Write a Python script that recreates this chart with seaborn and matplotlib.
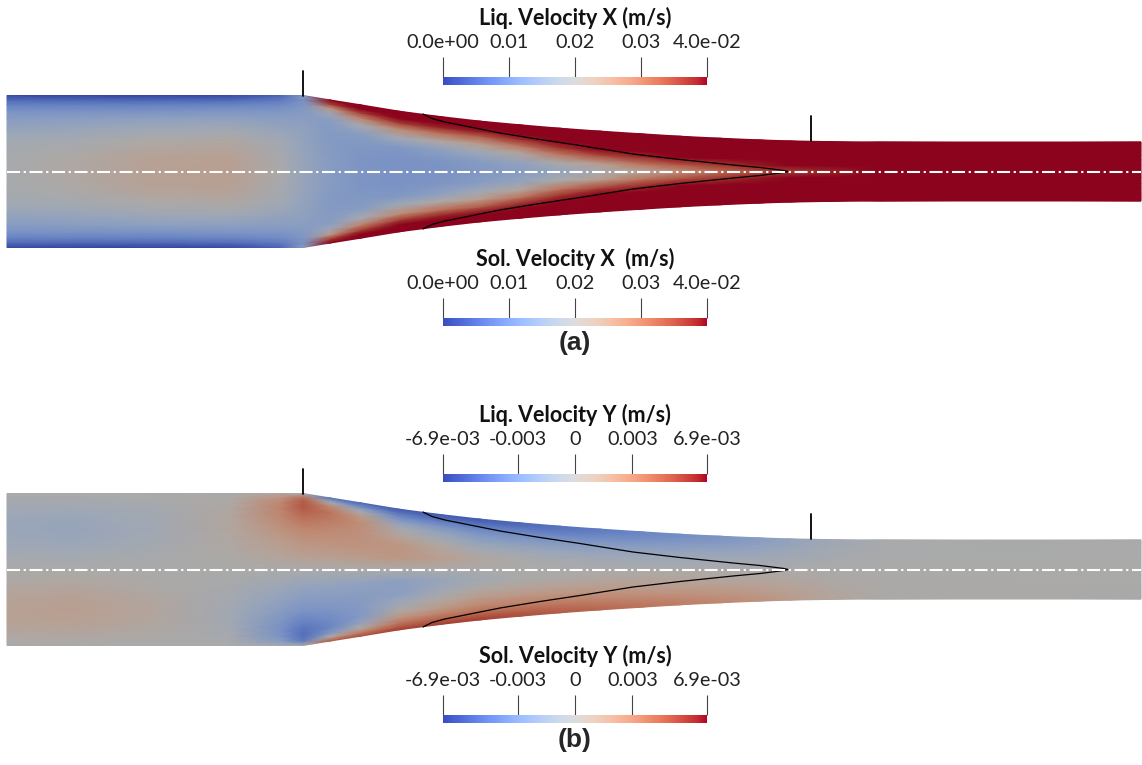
import numpy as np
import matplotlib
matplotlib.use("Agg")
import matplotlib.pyplot as plt
from matplotlib.colors import ListedColormap, Normalize
from matplotlib.cm import ScalarMappable
import seaborn as sns

# channel geometry: stations along the axis (px) and wall half-width (px)
x_stations = [7, 70, 150, 230, 280, 303, 330, 360, 400, 440, 480, 520, 560,
              600, 640, 680, 720, 760, 790, 830, 880, 1141]
wall_half = [76, 76, 76, 76, 76, 76, 71.6, 66.8, 60.2, 55.0, 50.4, 46.7, 43.3,
             40.4, 37.8, 35.3, 33.3, 31.6, 30.6, 29.9, 29.5, 29.5]
# normalized distance from the axis (0 = axis, 1 = wall)
eta_rows = [0, 0.2, 0.4, 0.55, 0.7, 0.8, 0.88, 0.94, 1.0]

# (a) velocity X in mm/s, one row per station, columns follow eta_rows
vel_x_mm = [
    [19.5, 19.5, 18.5, 16.5, 14, 12, 9, 6, 2],
    [21, 20.5, 19, 17, 14.5, 12, 9, 5.5, 1.5],
    [23, 22.5, 20.5, 18, 15, 12, 9, 5.5, 1.5],
    [23.5, 23, 21, 18.5, 15, 12.5, 9.5, 6, 2],
    [20, 19.5, 18.5, 16.5, 14.5, 12.5, 10.5, 8, 5],
    [16.5, 16.5, 16, 15.5, 14.5, 13.5, 12.5, 12, 14],
    [14, 14, 13.5, 13.5, 14, 17, 25, 36, 40],
    [12.5, 12.5, 13, 14, 19, 28, 36, 40, 40],
    [12, 12, 13, 18, 27, 36, 40, 40, 40],
    [12, 12.5, 15, 21, 31, 38, 40, 40, 40],
    [13, 14, 18, 24, 33, 39, 40, 40, 40],
    [14, 16, 22, 30, 38, 40, 40, 40, 40],
    [16, 20, 30, 37, 40, 40, 40, 40, 40],
    [19, 24, 35, 40, 40, 40, 40, 40, 40],
    [22, 30, 38, 40, 40, 40, 40, 40, 40],
    [26, 34, 40, 40, 40, 40, 40, 40, 40],
    [31, 37, 40, 40, 40, 40, 40, 40, 40],
    [35, 39, 40, 40, 40, 40, 40, 40, 40],
    [36, 40, 40, 40, 40, 40, 40, 40, 40],
    [38, 40, 40, 40, 40, 40, 40, 40, 40],
    [40, 40, 40, 40, 40, 40, 40, 40, 40],
    [40, 40, 40, 40, 40, 40, 40, 40, 40],
]

# (b) velocity Y in mm/s (upper half; lower half has opposite sign)
vel_y_mm = [
    [0, -0.4, -0.9, -1.0, -0.9, -0.6, -0.4, -0.2, 0],
    [0, -0.5, -1.1, -1.2, -1.0, -0.7, -0.4, -0.2, 0],
    [0, -0.2, -0.5, -0.6, -0.5, -0.4, -0.2, -0.1, 0],
    [0, 0.2, 0.4, 0.5, 0.5, 0.4, 0.3, 0.2, 0],
    [0, 0.8, 1.5, 2.0, 2.6, 2.8, 2.6, 2.0, 0.5],
    [0, 1.2, 2.0, 2.8, 3.8, 4.5, 4.6, 4.0, 0],
    [0, 1.3, 2.0, 2.5, 3.2, 3.5, 2.5, -0.5, -4.5],
    [0, 1.5, 2.0, 2.2, 2.3, 1.5, -0.5, -3, -5],
    [0, 1.8, 1.8, 0.8, -0.5, -2, -3.5, -4.5, -5.5],
    [0, 1.2, 0.6, -0.4, -1.6, -2.8, -4, -4.8, -5.5],
    [0, 0.5, -0.5, -1.5, -2.5, -3.5, -4.3, -5, -5.5],
    [0, 0, -0.8, -1.7, -2.7, -3.5, -4.2, -4.7, -5],
    [0, -0.3, -1.0, -1.8, -2.7, -3.5, -4, -4.3, -4.5],
    [0, -0.4, -1.1, -1.8, -2.6, -3.2, -3.6, -3.9, -4.0],
    [0, -0.5, -1.1, -1.7, -2.4, -2.9, -3.2, -3.4, -3.5],
    [0, -0.5, -1.0, -1.5, -2.1, -2.5, -2.8, -3.0, -3.0],
    [0, -0.4, -0.9, -1.4, -1.8, -2.2, -2.4, -2.5, -2.5],
    [0, -0.35, -0.8, -1.1, -1.4, -1.7, -1.8, -1.9, -1.9],
    [0, -0.3, -0.6, -0.8, -1.0, -1.2, -1.3, -1.3, -1.3],
    [0, -0.15, -0.3, -0.4, -0.5, -0.6, -0.6, -0.6, -0.6],
    [0, -0.05, -0.1, -0.1, -0.15, -0.15, -0.15, -0.15, -0.15],
    [0, 0, 0, 0, 0, 0, 0, 0, 0],
]

# liquid/solid interface (distance from axis, px)
interface_x = [423, 432, 445, 470, 500, 540, 580, 633, 680, 733, 760, 776, 784, 788]
interface_half = [57.5, 53, 49.5, 44.5, 38.5, 32, 26, 17.5, 12, 6.5, 4, 2, 1, 0]

panel_center = [171.5, 569.5]
corner_marks = [303, 811]

u_ticks = [0, 0.01, 0.02, 0.03, 0.04]
u_labels = ['0.0e+00', '0.01', '0.02', '0.03', '4.0e-02']
v_ticks = [-0.0069, -0.003, 0, 0.003, 0.0069]
v_labels = ['-6.9e-03', '-0.003', '0', '0.003', '6.9e-03']

sns.set_style('white')
plt.rcParams['font.family'] = ['Lato', 'DejaVu Sans']
plt.rcParams['lines.scale_dashes'] = False

W, H = 1142, 765
fig = plt.figure(figsize=(W / 100, H / 100), dpi=100)
ax = fig.add_axes([0, 0, 1, 1])
ax.set_xlim(0, W)
ax.set_ylim(H, 0)
ax.axis('off')

cw = sns.color_palette('coolwarm', as_cmap=True)
# rendered field is shaded (lighting), so darker than the legend bar
shaded = ListedColormap(cw(np.linspace(0, 1, 256))[:, :3] * 0.77)


def draw_field(center, table, odd, vmin, vmax):
    xs = np.array(x_stations, float)
    hs = np.array(wall_half, float)
    eta = np.array(eta_rows)
    vals = np.array(table, float).T / 1000.0
    eta_full = np.concatenate([-eta[::-1], eta[1:]])
    lower = -vals[::-1] if odd else vals[::-1]
    C = np.vstack([lower, vals[1:]])
    X = np.tile(xs, (len(eta_full), 1))
    Y = center - eta_full[:, None] * hs[None, :]
    ax.pcolormesh(X, Y, C, shading='gouraud', cmap=shaded, vmin=vmin, vmax=vmax)

    ix = np.array(interface_x)
    ih = np.array(interface_half)
    ax.plot(ix, center - ih, color='black', lw=0.9)
    ax.plot(ix, center + ih, color='black', lw=0.9)
    ax.plot([xs[0], xs[-1]], [center, center], color='white', lw=1.5,
            dashes=(9.4, 2.6, 1.6, 2.6))
    for mx in corner_marks:
        top = center - np.interp(mx, xs, hs)
        ax.plot([mx, mx], [top, top - 25], color='black', lw=1.3)


def add_bar(top_px, ticks, labels, title, vmin, vmax):
    cax = fig.add_axes([443 / W, 1 - (top_px + 8) / H, 264 / W, 8 / H])
    sm = ScalarMappable(norm=Normalize(vmin, vmax), cmap=cw)
    cb = fig.colorbar(sm, cax=cax, orientation='horizontal', ticklocation='top')
    cb.outline.set_visible(False)
    cb.set_ticks(ticks, labels=labels)
    cax.tick_params(axis='x', length=14.4, width=0.8, color='#444444',
                    pad=4.5, labelsize=14.3, labelcolor='#222222')
    tl = cax.xaxis.get_ticklines()
    for t in (tl[0], tl[-2]):
        t.set_color('#999999')
    fig.text(575 / W, 1 - (top_px - 59) / H, title, ha='center', va='center',
             fontsize=15.5, fontweight='bold', color='#111111')


draw_field(panel_center[0], vel_x_mm, False, 0, 0.04)
draw_field(panel_center[1], vel_y_mm, True, -0.0069, 0.0069)

add_bar(77, u_ticks, u_labels, 'Liq. Velocity X (m/s)', 0, 0.04)
add_bar(318, u_ticks, u_labels, 'Sol. Velocity X  (m/s)', 0, 0.04)
add_bar(474, v_ticks, v_labels, 'Liq. Velocity Y (m/s)', -0.0069, 0.0069)
add_bar(715, v_ticks, v_labels, 'Sol. Velocity Y (m/s)', -0.0069, 0.0069)

fig.text(575 / W, 1 - 343 / H, '(a)', ha='center', va='center', fontsize=19,
         fontweight='bold', family='Liberation Sans')
fig.text(575 / W, 1 - 740 / H, '(b)', ha='center', va='center', fontsize=19,
         fontweight='bold', family='Liberation Sans')

fig.savefig('out.png', dpi=100)
